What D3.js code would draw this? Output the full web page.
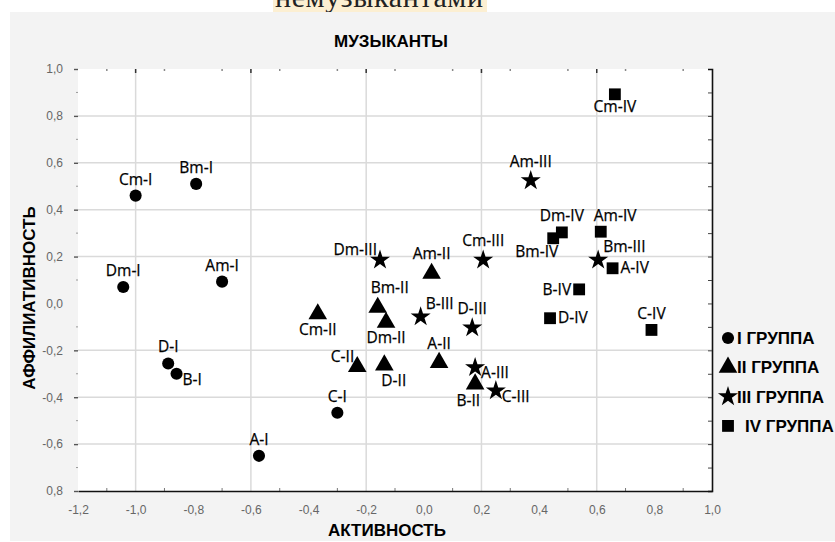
<!DOCTYPE html>
<html>
<head>
<meta charset="utf-8">
<script src="https://cdnjs.cloudflare.com/ajax/libs/d3/7.8.5/d3.min.js"></script>
<style>
    body { margin: 0; background: #fff; }
    svg { display: block; }
</style>
</head>
<body>
<div id="plot"></div>
<script>
var width = 835;
var height = 542;

// Point names, group is the roman numeral after the dash
var names = ["Cm-I", "Bm-I", "Dm-I", "Am-I", "D-I", "B-I", "A-I", "C-I",
             "Cm-II", "Bm-II", "Dm-II", "C-II", "D-II", "A-II", "B-II", "Am-II",
             "Am-III", "Dm-III", "Cm-III", "B-III", "D-III", "A-III", "C-III", "Bm-III",
             "Cm-IV", "Dm-IV", "Bm-IV", "Am-IV", "A-IV", "B-IV", "D-IV", "C-IV"];

// АКТИВНОСТЬ (x)
var activity = [-1.0, -0.79, -1.043, -0.70, -0.887, -0.858, -0.572, -0.30,
                -0.368, -0.16, -0.131, -0.231, -0.137, 0.053, 0.178, 0.027,
                0.371, -0.152, 0.206, -0.011, 0.168, 0.178, 0.25, 0.605,
                0.663, 0.479, 0.449, 0.614, 0.655, 0.539, 0.438, 0.79];

// АФФИЛИАТИВНОСТЬ (y)
var affiliation = [0.46, 0.51, 0.07, 0.093, -0.256, -0.30, -0.65, -0.466,
                   -0.045, -0.017, -0.081, -0.27, -0.263, -0.252, -0.344, 0.128,
                   0.524, 0.185, 0.185, -0.057, -0.104, -0.273, -0.372, 0.185,
                   0.892, 0.303, 0.278, 0.306, 0.15, 0.06, -0.063, -0.113];

// where each label sits next to its marker
var labelSide = ["t", "t", "t", "t", "t", "br", "t", "t",
                 "b", "ts", "b", "tl", "bs", "t", "bl", "t",
                 "t", "tl", "t", "tr", "t", "br", "br", "tr",
                 "b", "t", "bl", "ts", "r", "l", "r", "t"];

var groupKeys = ["I", "II", "III", "IV"];
var legendLabels = ["I ГРУППА", "II ГРУППА", "III ГРУППА", "IV ГРУППА"];

var xTicks = [-1.2, -1.0, -0.8, -0.6, -0.4, -0.2, 0.0, 0.2, 0.4, 0.6, 0.8, 1.0];
var xTickLabels = ["-1,2", "-1,0", "-0,8", "-0,6", "-0,4", "-0,2", "0,0", "0,2", "0,4", "0,6", "0,8", "1,0"];
var yTicks = [-0.8, -0.6, -0.4, -0.2, 0.0, 0.2, 0.4, 0.6, 0.8, 1.0];
var yTickLabels = ["0,8", "-0,6", "-0,4", "-0,2", "0,0", "0,2", "0,4", "0,6", "0,8", "1,0"];
var xGrid = [-1.0, -0.6, -0.2, 0.2, 0.6];
var yGrid = [-0.6, -0.4, -0.2, 0.2, 0.4, 0.6, 0.8];

var SYMBOLS = [d3.symbolCircle, d3.symbolTriangle, d3.symbolStar, d3.symbolSquare];
var SIZES = [115, 150, 125, 140];
var RADIUS = [6, 9, 9, 6];
var BOLD_FONT = "'Liberation Sans Narrow', 'Arial Narrow', 'Liberation Sans', sans-serif";

var points = names.map(function(n, i) {
    return {
        name: n,
        group: groupKeys.indexOf(n.split("-")[1]),
        x: activity[i],
        y: affiliation[i],
        side: labelSide[i]
    };
});

var svg = d3.select("#plot").append("svg")
    .attr("width", width)
    .attr("height", height);

// highlighted word cut off at the top of the screenshot
svg.append("rect")
    .attr("x", 273).attr("y", 0)
    .attr("width", 214).attr("height", 12)
    .attr("fill", "#fcefd2");
svg.append("text")
    .attr("x", 275).attr("y", 7)
    .attr("textLength", 208)
    .style("font-family", "'Liberation Serif', serif")
    .style("font-size", "30px")
    .style("fill", "#222")
    .text("немузыкантами");

// grey panel
svg.append("rect")
    .attr("x", 10).attr("y", 12)
    .attr("width", width - 10).attr("height", height - 13)
    .attr("fill", "#f3f3f3");

var scaleX = d3.scaleLinear().domain([-1.2, 1.0]).range([78, 712]);
var scaleY = d3.scaleLinear().domain([-0.8, 1.0]).range([491, 69]);

// plot area
svg.append("rect")
    .attr("x", scaleX(-1.2)).attr("y", scaleY(1.0))
    .attr("width", scaleX(1.0) - scaleX(-1.2))
    .attr("height", scaleY(-0.8) - scaleY(1.0))
    .attr("fill", "#fff");

// gridlines
svg.selectAll("line.gx").data(xGrid).enter().append("line")
    .attr("class", "gx")
    .attr("x1", function(d) { return scaleX(d); })
    .attr("x2", function(d) { return scaleX(d); })
    .attr("y1", scaleY(1.0)).attr("y2", scaleY(-0.8))
    .style("stroke", "#dadada").style("stroke-width", 1.5);

svg.selectAll("line.gy").data(yGrid).enter().append("line")
    .attr("class", "gy")
    .attr("y1", function(d) { return scaleY(d); })
    .attr("y2", function(d) { return scaleY(d); })
    .attr("x1", scaleX(-1.2)).attr("x2", scaleX(1.0))
    .style("stroke", "#dadada").style("stroke-width", 1.5);

// minor ticks every 0.1
var minorX = d3.range(-11, 10, 2).map(function(d) { return d / 10; });
var minorY = d3.range(-7, 10, 2).map(function(d) { return d / 10; });

var topTicks = minorX.concat(xGrid);
svg.selectAll("line.tt").data(topTicks).enter().append("line")
    .attr("class", "tt")
    .attr("x1", function(d) { return scaleX(d); })
    .attr("x2", function(d) { return scaleX(d); })
    .attr("y1", scaleY(1.0))
    .attr("y2", function(d) { return scaleY(1.0) + (xGrid.indexOf(d) >= 0 ? 4 : 2); })
    .style("stroke", function(d) { return xGrid.indexOf(d) >= 0 ? "#333" : "#888"; })
    .style("stroke-width", 1.5);

svg.selectAll("line.bt").data(minorX).enter().append("line")
    .attr("class", "bt")
    .attr("x1", function(d) { return scaleX(d); })
    .attr("x2", function(d) { return scaleX(d); })
    .attr("y1", scaleY(-0.8))
    .attr("y2", scaleY(-0.8) - 3)
    .style("stroke", "#777").style("stroke-width", 1);

svg.selectAll("line.lt").data(minorY).enter().append("line")
    .attr("class", "lt")
    .attr("y1", function(d) { return scaleY(d); })
    .attr("y2", function(d) { return scaleY(d); })
    .attr("x1", scaleX(-1.2) - 2)
    .attr("x2", scaleX(-1.2))
    .style("stroke", "#999").style("stroke-width", 1);

// bottom axis
var xAxis = d3.axisBottom(scaleX)
    .tickValues(xTicks)
    .tickSize(0)
    .tickPadding(14)
    .tickFormat(function(d, i) { return xTickLabels[i]; });

var gx = svg.append("g")
    .attr("transform", "translate(0," + scaleY(-0.8) + ")")
    .call(xAxis);
gx.select(".domain").style("stroke", "#111").style("stroke-width", 1.6);

// left axis
var yAxis = d3.axisLeft(scaleY)
    .tickValues(yTicks)
    .tickSize(4)
    .tickPadding(11)
    .tickFormat(function(d, i) { return yTickLabels[i]; });

var gy = svg.append("g")
    .attr("transform", "translate(" + scaleX(-1.2) + ",0)")
    .call(yAxis);
gy.select(".domain").remove();
gy.selectAll(".tick line")
    .style("stroke", "#555").style("stroke-width", 1.4)
    .filter(function(d) { return d === 0; }).remove();

// right axis, ticks inside
var rAxis = d3.axisLeft(scaleY)
    .tickValues(d3.range(-7, 10).map(function(d) { return d / 10; }))
    .tickSize(4)
    .tickFormat("");

var gr = svg.append("g")
    .attr("transform", "translate(" + scaleX(1.0) + ",0)")
    .call(rAxis);
gr.select(".domain").style("stroke", "#111").style("stroke-width", 1.6);
gr.selectAll(".tick line").style("stroke", "#444");

svg.selectAll(".tick text")
    .style("font-family", BOLD_FONT)
    .style("font-size", "12px")
    .style("fill", "#666");

// titles
svg.append("text")
    .attr("x", 391).attr("y", 47)
    .attr("text-anchor", "middle")
    .style("font-family", BOLD_FONT)
    .style("font-weight", "bold")
    .style("font-size", "17px")
    .text("МУЗЫКАНТЫ");

svg.append("text")
    .attr("x", 387).attr("y", 536)
    .attr("text-anchor", "middle")
    .style("font-family", BOLD_FONT)
    .style("font-weight", "bold")
    .style("font-size", "17px")
    .text("АКТИВНОСТЬ");

svg.append("text")
    .attr("transform", "translate(35,298) rotate(-90)")
    .attr("text-anchor", "middle")
    .style("font-family", BOLD_FONT)
    .style("font-weight", "bold")
    .style("font-size", "17px")
    .text("АФФИЛИАТИВНОСТЬ");

// markers
svg.selectAll("path.point").data(points).enter().append("path")
    .attr("class", "point")
    .attr("transform", function(d) { return translate(scaleX(d.x), scaleY(d.y)); })
    .attr("d", function(d) { return d3.symbol().type(SYMBOLS[d.group]).size(SIZES[d.group])(); })
    .style("fill", "#000");

// labels
svg.selectAll("text.label").data(points).enter().append("text")
    .attr("class", "label")
    .each(function(d) {
        var o = labelOffset(d.side, RADIUS[d.group]);
        d3.select(this)
            .attr("x", scaleX(d.x) + o.dx)
            .attr("y", scaleY(d.y) + o.dy)
            .attr("text-anchor", o.anchor);
    })
    .style("font-family", "'Open Sans', sans-serif")
    .style("font-size", "15.5px")
    .style("fill", "#000")
    .style("stroke", "#000")
    .style("stroke-width", 0.25)
    .text(function(d) { return d.name; });

// legend
var legend = svg.selectAll("g.legend").data(legendLabels).enter().append("g")
    .attr("class", "legend")
    .attr("transform", function(d, i) { return translate(728, 338 + i * 29.3); });

legend.append("path")
    .attr("d", function(d, i) { return d3.symbol().type(SYMBOLS[i]).size(SIZES[i])(); })
    .style("fill", "#000");

legend.append("text")
    .attr("x", function(d, i) { return i == 3 ? 17 : 9; })
    .attr("y", 6)
    .style("font-family", BOLD_FONT)
    .style("font-weight", "bold")
    .style("font-size", "17px")
    .text(function(d) { return d; });

function labelOffset(side, r) {
    switch (side) {
        case "t":  return { anchor: "middle", dx: 0, dy: -(r + 5) };
        case "ts": return { anchor: "start", dx: -7, dy: -(r + 5) };
        case "b":  return { anchor: "middle", dx: 0, dy: r + 12 };
        case "bs": return { anchor: "start", dx: -3, dy: r + 12 };
        case "bl": return { anchor: "end", dx: 5, dy: r + 13 };
        case "tl": return { anchor: "end", dx: -3, dy: -5 };
        case "tr": return { anchor: "start", dx: 5, dy: -8 };
        case "r":  return { anchor: "start", dx: r + 2, dy: 5 };
        case "br": return { anchor: "start", dx: 6, dy: 11 };
        case "l":  return { anchor: "end", dx: -(r + 2), dy: 6 };
    }
    return { anchor: "middle", dx: 0, dy: 0 };
}

function translate(x, y) {
    return "translate(" + x + "," + y + ")";
}
</script>
</body>
</html>
